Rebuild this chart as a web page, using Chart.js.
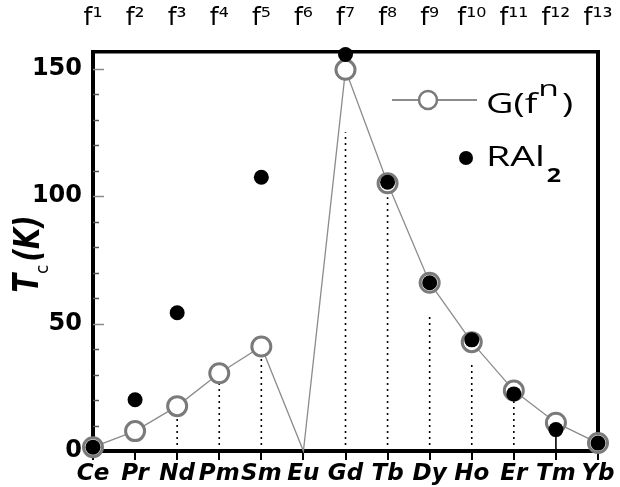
<!DOCTYPE html>
<html>
<head>
<meta charset="utf-8">
<script src="https://cdn.jsdelivr.net/npm/chart.js@4"></script>
<style>
  html, body { margin: 0; padding: 0; background: #fff; }
  #chart { display: block; }
</style>
</head>
<body>
<canvas id="chart" width="620" height="487"></canvas>
<script>
// lanthanide series, bottom and top axis labels
const elements = ['Ce', 'Pr', 'Nd', 'Pm', 'Sm', 'Eu', 'Gd', 'Tb', 'Dy', 'Ho', 'Er', 'Tm', 'Yb'];
const fLabels = ['f¹', 'f²', 'f³', 'f⁴', 'f⁵', 'f⁶', 'f⁷', 'f⁸', 'f⁹', 'f¹⁰', 'f¹¹', 'f¹²', 'f¹³'];

// Tc in K
const gValues = [1.5, 7.8, 17.6, 30.5, 41.0, 0, 149.5, 105.0, 66.0, 42.7, 23.7, 11.1, 3.1];
const ral2Values = [1.5, 20.1, 54.2, null, 107.4, null, 155.5, 105.4, 66.0, 43.6, 22.4, 8.4, 3.1];
// upper end of the dotted drop lines
const dropTops = [null, null, 13.3, 26.5, 36.8, null, 125, 99.5, 53, 34.3, 19.8, 8.4, null];

const yMin = 0;
const yMax = 156.5;
const majorStep = 50;
const minorStep = 10;

function buildDropData() {
  const pts = [];
  dropTops.forEach((top, i) => {
    if (top === null) return;
    pts.push({ x: elements[i], y: 0 });
    pts.push({ x: elements[i], y: top });
    pts.push({ x: elements[i], y: null });
  });
  return pts;
}

// keep the chart area fixed, no room reserved for label overhang
function fixBox(size) {
  return (s) => {
    if (s.isHorizontal()) s.height = size; else s.width = size;
    s.paddingLeft = 0;
    s.paddingRight = 0;
    s.paddingTop = 0;
    s.paddingBottom = 0;
  };
}

const innerTicks = {
  id: 'innerTicks',
  beforeDatasetsDraw(chart) {
    const { ctx, chartArea } = chart;
    const y = chart.scales.y;
    ctx.save();
    for (let v = minorStep; v <= yMax; v += minorStep) {
      const py = Math.round(y.getPixelForValue(v)) + 0.5;
      const major = v % majorStep === 0;
      ctx.strokeStyle = major ? '#8a8a8a' : '#555';
      ctx.lineWidth = 1.5;
      ctx.beginPath();
      ctx.moveTo(chartArea.left, py);
      ctx.lineTo(chartArea.left + (major ? 11 : 6), py);
      ctx.stroke();
    }
    ctx.restore();
  }
};

const yTitle = {
  id: 'yTitle',
  afterDraw(chart) {
    const { ctx } = chart;
    const big = 'italic bold 36px "DejaVu Sans"';
    const small = '17px "DejaVu Sans"';
    const squeeze = 0.76;
    ctx.save();
    ctx.translate(0, 254);
    ctx.rotate(-Math.PI / 2);
    ctx.fillStyle = '#000';
    ctx.textBaseline = 'alphabetic';
    ctx.font = big;
    const wT = ctx.measureText('T').width;
    const wK = ctx.measureText('(K)').width;
    ctx.font = small;
    const wc = ctx.measureText('c').width;
    const total = (wT + wK) * squeeze + wc + 3;
    let u = -total / 2;
    ctx.font = big;
    ctx.save();
    ctx.translate(u, 38);
    ctx.scale(squeeze, 1);
    ctx.fillText('T', 0, 0);
    ctx.restore();
    u += wT * squeeze;
    ctx.font = small;
    ctx.fillText('c', u, 48);
    u += wc + 3;
    ctx.font = big;
    ctx.save();
    ctx.translate(u, 39);
    ctx.scale(squeeze, 1);
    ctx.fillText('(K)', 0, 0);
    ctx.restore();
    ctx.restore();
  }
};

function stretchedText(ctx, text, x, y, font, sx) {
  ctx.font = font;
  ctx.save();
  ctx.translate(x, y);
  ctx.scale(sx, 1);
  ctx.fillText(text, 0, 0);
  ctx.restore();
  return ctx.measureText(text).width * sx;
}

const customLegend = {
  id: 'customLegend',
  afterDraw(chart) {
    const { ctx } = chart;
    const fam = '"Open Sans"';
    const sx = 1.35;
    ctx.save();
    // G(f^n) entry
    ctx.strokeStyle = '#8c8c8c';
    ctx.lineWidth = 2;
    ctx.beginPath();
    ctx.moveTo(392, 100);
    ctx.lineTo(477, 100);
    ctx.stroke();
    ctx.beginPath();
    ctx.arc(428, 100, 9, 0, Math.PI * 2);
    ctx.fillStyle = '#fff';
    ctx.fill();
    ctx.strokeStyle = '#7a7a7a';
    ctx.lineWidth = 2.5;
    ctx.stroke();

    ctx.fillStyle = '#000';
    ctx.textBaseline = 'alphabetic';
    let x = 486;
    x += stretchedText(ctx, 'G(', x, 113, '28px ' + fam, sx);
    x += stretchedText(ctx, 'f', x, 113, '28px ' + fam, sx) + 1;
    x += stretchedText(ctx, 'n', x, 96, '21px ' + fam, 1.6) + 3;
    stretchedText(ctx, ')', x, 113, '28px ' + fam, sx);

    // RAl2 entry
    ctx.beginPath();
    ctx.arc(466, 158, 7, 0, Math.PI * 2);
    ctx.fillStyle = '#000';
    ctx.fill();
    x = 486;
    x += stretchedText(ctx, 'RAl', x, 166, '27px ' + fam, 1.45) + 2;
    stretchedText(ctx, '2', x, 182, 'bold 20px ' + fam, 1.25);
    ctx.restore();
  }
};

new Chart(document.getElementById('chart'), {
  type: 'line',
  data: {
    labels: elements,
    datasets: [
      {
        label: 'RAl2',
        data: ral2Values,
        showLine: false,
        pointRadius: 7.5,
        pointHoverRadius: 7.5,
        pointBackgroundColor: '#000',
        pointBorderColor: '#000',
        pointBorderWidth: 0,
        clip: false,
        order: 0
      },
      {
        label: 'G(fn)',
        data: gValues,
        borderColor: '#8c8c8c',
        borderWidth: 1.3,
        pointRadius: (c) => (elements[c.dataIndex] === 'Eu' ? 0 : 9.5),
        pointHoverRadius: 9.5,
        pointBackgroundColor: '#fff',
        pointBorderColor: '#7a7a7a',
        pointBorderWidth: 3,
        tension: 0,
        clip: false,
        order: 1
      },
      {
        label: 'drop',
        data: buildDropData(),
        borderColor: '#000',
        borderWidth: 1.6,
        borderDash: [2, 4],
        segment: {
          borderDash: (c) => (elements[c.p0.parsed.x] === 'Tm' ? [] : [2, 4])
        },
        pointRadius: 0,
        spanGaps: false,
        order: 2
      }
    ]
  },
  options: {
    responsive: false,
    animation: false,
    devicePixelRatio: 1,
    layout: { padding: 0 },
    plugins: {
      legend: { display: false },
      tooltip: { enabled: false }
    },
    scales: {
      x: {
        type: 'category',
        position: 'bottom',
        offset: false,
        afterFit: fixBox(36),
        border: { display: true, color: '#000', width: 4 },
        grid: { drawOnChartArea: false, drawTicks: true, tickLength: 9, tickColor: '#000', lineWidth: 2 },
        ticks: {
          color: '#000',
          padding: 0,
          maxRotation: 0,
          autoSkip: false,
          font: { family: '"DejaVu Sans"', size: 23, weight: 'bold', style: 'italic' }
        }
      },
      x2: {
        type: 'category',
        position: 'top',
        labels: fLabels,
        offset: false,
        afterFit: fixBox(52),
        border: { display: true, color: '#000', width: 3.5 },
        grid: { display: false, drawTicks: false },
        ticks: {
          color: '#000',
          padding: 19,
          maxRotation: 0,
          autoSkip: false,
          font: { family: '"DejaVu Sans"', size: 25 }
        }
      },
      y: {
        type: 'linear',
        position: 'left',
        min: yMin,
        max: yMax,
        afterFit: fixBox(93),
        border: { display: true, color: '#000', width: 4 },
        grid: { display: false, drawTicks: false },
        ticks: {
          stepSize: majorStep,
          includeBounds: false,
          color: '#000',
          padding: 11,
          font: { family: '"DejaVu Sans"', size: 24, weight: 'bold' }
        }
      },
      y2: {
        type: 'linear',
        position: 'right',
        min: yMin,
        max: yMax,
        afterFit: fixBox(22),
        border: { display: true, color: '#000', width: 4 },
        grid: { display: false, drawTicks: false },
        ticks: { display: false }
      }
    }
  },
  plugins: [innerTicks, yTitle, customLegend]
});
</script>
</body>
</html>
